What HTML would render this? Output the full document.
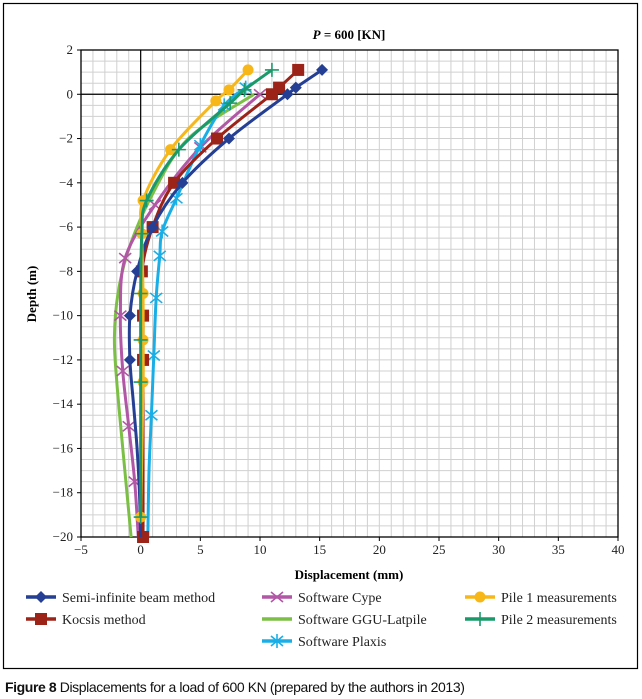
<!DOCTYPE html>
<html><head><meta charset="utf-8"><style>
body{margin:0;background:#fff;width:642px;height:699px;overflow:hidden;font-family:"Liberation Serif",serif}
svg{position:absolute;left:0;top:0}
</style></head><body>
<svg id="chart" width="642" height="699" xmlns="http://www.w3.org/2000/svg">
<rect x="3.5" y="3.5" width="634" height="665" fill="none" stroke="#000" stroke-width="1.2"/>
<g id="grid"></g><g id="axes"></g><g id="series"></g><g id="legend"></g>
<text x="349" y="39" font-size="13" font-weight="bold" text-anchor="middle"><tspan font-style="italic">P</tspan> = 600 [KN]</text>
<text x="349" y="579" font-size="13" font-weight="bold" text-anchor="middle">Displacement (mm)</text>
<text transform="translate(36,294) rotate(-90)" font-size="13" font-weight="bold" text-anchor="middle">Depth (m)</text>
<text x="5" y="692" font-family="Liberation Sans, sans-serif" font-size="14" letter-spacing="-0.4" fill="#111"><tspan font-weight="bold">Figure 8</tspan> Displacements for a load of 600 KN (prepared by the authors in 2013)</text>
</svg>
<script>
const xTicks=[-5,0,5,10,15,20,25,30,35,40];
const yTicks=[2,0,-2,-4,-6,-8,-10,-12,-14,-16,-18,-20];
const seriesNames=["Semi-infinite beam method","Kocsis method","Software Cype","Software GGU-Latpile","Software Plaxis","Pile 1 measurements","Pile 2 measurements"];
const semiX=[15.2,13,12.3,7.4,3.5,1,-0.3,-0.9,-0.9,-0.6,-0.3,-0.1,0];
const semiY=[1.1,0.3,0,-2,-4,-6,-8,-10,-12,-14,-16,-18,-20];
const kocX=[13.2,11.6,11,6.4,2.8,1,0.1,0.2,0.2,0.2];
const kocY=[1.1,0.3,0,-2,-4,-6,-8,-10,-12,-20];
const cypeX=[10,5,1.2,-1.3,-1.7,-1.5,-1,-0.5,-0.2];
const cypeY=[0,-2.4,-5,-7.4,-10,-12.5,-15,-17.5,-20];
const gguX=[9.5,4,1,-1,-1.9,-2.2,-2,-1.5,-0.8];
const gguY=[0,-2,-4.5,-7,-9,-11,-13,-16,-20];
const plaxX=[8.8,7,5,3,1.8,1.6,1.3,1.1,0.9,0.7,0.6];
const plaxY=[0.3,-0.5,-2.3,-4.7,-6.2,-7.3,-9.2,-11.8,-14.5,-17,-20];
const p1X=[9,7.4,6.3,2.5,0.2,0.1,0.2,0.2,0.2,0];
const p1Y=[1.1,0.2,-0.3,-2.5,-4.8,-6.3,-9,-11.1,-13,-19.1];
const p2X=[11,8.7,7.5,3.2,0.5,0.1,0,0,0,0];
const p2Y=[1.1,0.2,-0.4,-2.5,-4.8,-6.3,-9,-11.1,-13,-19.1];
const colors=["#243f93","#9b2318","#b256a6","#7bbf45","#1aaee6","#f7b718","#1a9a6a"];
const markers=["diamond","square","x","none","star","circle","plus"];
const allX=[semiX,kocX,cypeX,gguX,plaxX,p1X,p2X];
const allY=[semiY,kocY,cypeY,gguY,plaxY,p1Y,p2Y];
const markerIdx=[[0,1,2,3,4,5,6,7,8],[0,1,2,3,4,5,6,7,8,9],[0,1,2,3,4,5,6,7],[],[0,1,2,3,4,5,6,7,8],[0,1,2,3,4,5,6,7,8,9],[0,1,2,3,4,5,6,7,8,9]];
const X0=81,X1=618,Y0=50,Y1=537;
const sx=v=>X0+(v+5)/45*(X1-X0);
const sy=v=>Y0+(2-v)/22*(Y1-Y0);
const NS="http://www.w3.org/2000/svg";
function mk(t,a,p){const e=document.createElementNS(NS,t);for(const k in a)e.setAttribute(k,a[k]);p.appendChild(e);return e;}
const grid=document.getElementById('grid'),axes=document.getElementById('axes'),ser=document.getElementById('series'),leg=document.getElementById('legend');
for(let v=-5;v<=40;v++){const l=mk('line',{x1:sx(v),x2:sx(v),y1:Y0,y2:Y1,stroke:'#d0d0d0','stroke-width':1},grid);}
for(let v=2;v>=-20;v-=0.5){const l=mk('line',{x1:X0,x2:X1,y1:sy(v),y2:sy(v),stroke:'#d0d0d0','stroke-width':1},grid);}
const fr=mk('rect',{x:X0,y:Y0,width:X1-X0,height:Y1-Y0,fill:'none',stroke:'#000','stroke-width':1.3},axes);

const z1=mk('line',{x1:sx(0),x2:sx(0),y1:Y0,y2:Y1,stroke:'#000','stroke-width':1.2},axes);
const z2=mk('line',{x1:X0,x2:X1,y1:sy(0),y2:sy(0),stroke:'#000','stroke-width':1.2},axes);
xTicks.forEach(v=>{const t=mk('text',{x:sx(v),y:Y1+17,'font-size':13,'text-anchor':'middle',fill:'#222'},axes);t.textContent=v<0?'\u2212'+(-v):v;
 mk('line',{x1:sx(v),x2:sx(v),y1:Y1,y2:Y1+4,stroke:'#000'},axes);});
yTicks.forEach(v=>{const t=mk('text',{x:X0-8,y:sy(v)+4,'font-size':13,'text-anchor':'end',fill:'#222'},axes);t.textContent=v<0?'\u2212'+(-v):v;
 mk('line',{x1:X0-4,x2:X0,y1:sy(v),y2:sy(v),stroke:'#000'},axes);});
function smooth(pts){let d='M'+pts[0][0]+','+pts[0][1];for(let i=0;i<pts.length-1;i++){const p0=pts[i-1]||pts[i],p1=pts[i],p2=pts[i+1],p3=pts[i+2]||p2;
 const c1=[p1[0]+(p2[0]-p0[0])/6,p1[1]+(p2[1]-p0[1])/6],c2=[p2[0]-(p3[0]-p1[0])/6,p2[1]-(p3[1]-p1[1])/6];d+=' C'+c1+' '+c2+' '+p2;}return d;}
function marker(type,x,y,c,g){
 if(type==='diamond')mk('polygon',{points:`${x},${y-6} ${x+6},${y} ${x},${y+6} ${x-6},${y}`,fill:c},g);
 else if(type==='square')mk('rect',{x:x-6,y:y-6,width:12,height:12,fill:c},g);
 else if(type==='circle')mk('circle',{cx:x,cy:y,r:5.5,fill:c},g);
 else if(type==='x'){mk('path',{d:`M${x-6},${y-5}L${x+6},${y+5}M${x-6},${y+5}L${x+6},${y-5}`,stroke:c,'stroke-width':1.6},g);}
 else if(type==='plus'){mk('path',{d:`M${x-7},${y}L${x+7},${y}M${x},${y-7}L${x},${y+7}`,stroke:c,'stroke-width':1.6},g);}
 else if(type==='star'){mk('path',{d:`M${x-6},${y-5}L${x+6},${y+5}M${x-6},${y+5}L${x+6},${y-5}M${x},${y-7}L${x},${y+7}`,stroke:c,'stroke-width':1.6},g);}
}
const drawOrder=[3,2,4,1,0,5,6];
drawOrder.forEach(i=>{const g=mk('g',{},ser);
 const pts=allX[i].map((v,k)=>[sx(v),sy(allY[i][k])]);
 const p=mk('path',{d:smooth(pts),fill:'none',stroke:colors[i],'stroke-width':3},g);
 markerIdx[i].forEach(k=>{if(k<pts.length)marker(markers[i],pts[k][0],pts[k][1],colors[i],g);});});
const legPos=[[26,597],[26,619],[262,597],[262,619],[262,641],[465,597],[465,619]];
seriesNames.forEach((n,i)=>{const g=mk('g',{},leg);
 const [x,y]=legPos[i];mk('line',{x1:x,x2:x+30,y1:y,y2:y,stroke:colors[i],'stroke-width':3.5},g);marker(markers[i],x+15,y,colors[i],g);
 const t=mk('text',{x:x+36,y:y+5,'font-size':14,fill:'#222'},g);t.textContent=n;});
</script>
</body></html>
